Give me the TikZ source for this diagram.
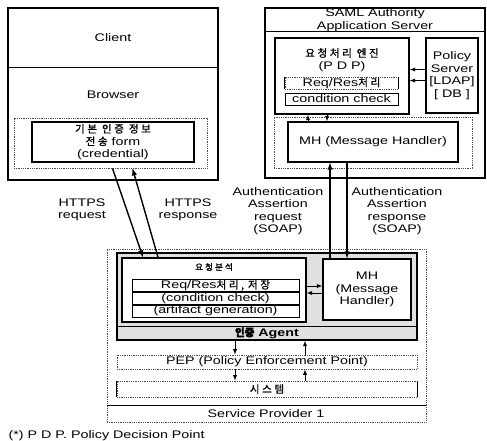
\documentclass[tikz,border=0pt]{standalone}
\usepackage{fontspec}
\setmainfont{Liberation Sans}[FakeStretch=1.3]
\newfontfamily\kr{Noto Sans CJK KR}[LetterSpace=25, FakeBold=1.2]
\newfontfamily\krb{Noto Sans CJK KR}[FakeBold=3]
\newcommand\ko[1]{{\kr\fontsize{10.5}{12.5}\selectfont #1}}
\usetikzlibrary{positioning,arrows}

\tikzset{
  box/.style={draw, line width=1.4pt, inner sep=0pt},
  litebox/.style={draw=black!70, densely dotted, line width=0.8pt, inner sep=0pt},
  rowbox/.style={draw, line width=0.7pt, inner sep=0pt, minimum width=167pt, minimum height=12pt},
  txt/.style={align=center, inner sep=0pt},
  tip/.style={-latex, line width=1.4pt},
  small tip/.style={-latex, line width=0.9pt},
}

\begin{document}
\begin{tikzpicture}[x=1pt, y=-1pt, font=\fontsize{11}{12.5}\selectfont]
\useasboundingbox (0,0) rectangle (487,441);
%
% client side
    \node[box, minimum width=210pt, minimum height=172pt] (clientbox) at (113,94) {};
    \draw[line width=1.4pt] ([yshift=-60pt]clientbox.north west) -- ([yshift=-60pt]clientbox.north east);
    \node (client) at (113,38) {Client};
    \node (browser) at (113,95) {Browser};
    \node[litebox, minimum width=193pt, minimum height=50pt] (credarea) at (110.5,143) {};
    \node[box, txt, minimum width=162pt, minimum height=40pt] (cred) at (113,142)
      {\ko{기본 인증 정보}\\\ko{전송} form\\(credential)};
%
% SAML authority
    \node[box, minimum width=220pt, minimum height=170pt] (saml) at (375,93) {};
    \draw[line width=1.4pt] ([yshift=-24pt]saml.north west) -- ([yshift=-24pt]saml.north east);
    \node[txt] (samltitle) at (375,20) {SAML Authority\\Application Server};
    \node[box, minimum width=134pt, minimum height=76pt] (pdp) at (342,76) {};
    \node[txt] (pdptitle) at (342,60) {\ko{요청처리 엔진}\\(P D P)};
    \node[litebox, minimum width=113pt, minimum height=12pt] (pdpreq) at (341.5,83) {Req/Res\ko{처리}};
    \draw[line width=0.9pt] (pdpreq.north west) -- (pdpreq.south west) (pdpreq.north east) -- (pdpreq.south east);
    \node[rowbox, minimum width=113pt] (pdpcond) at (341.5,99) {condition check};
    \node[box, txt, minimum width=52pt, minimum height=75pt] (policy) at (452,75.5)
      {Policy\\Server\\{[LDAP]}\\{[ DB ]}};
    \draw[small tip] ([yshift=6pt]policy.west) -- ([yshift=6pt]policy.west -| pdp.east);
    \draw[small tip] ([yshift=-5pt]policy.west) -- ([yshift=-5pt]policy.west -| pdp.east);
%
    \node[litebox, minimum width=198pt, minimum height=51pt] (mharea) at (373,142.5) {};
    \node[box, fill=white, minimum width=170pt, minimum height=40pt] (mhtop) at (373,142) {MH (Message Handler)};
    \draw[small tip] ([xshift=-34pt]pdp.south |- mhtop.north) -- ([xshift=-34pt]pdp.south);
    \draw[small tip] ([xshift=-15pt]pdp.south) -- ([xshift=-15pt]pdp.south |- mhtop.north);
%
% service provider
    \node[litebox, minimum width=319pt, minimum height=173pt] (sp) at (266.5,335.5) {};
    \draw[line width=1.4pt] ([yshift=-157pt]sp.north west) -- ([yshift=-157pt]sp.north east);
    \node (sptext) at (266,414) {Service Provider 1};
    \node[box, fill=black!12, minimum width=300pt, minimum height=87pt] (agent) at (267,296.5) {};
    \draw[line width=1.4pt] ([yshift=14pt]agent.south west) -- ([yshift=14pt]agent.south east);
    \node[font=\fontsize{11}{12.5}\selectfont\bfseries] (agenttext) at (267,333) {{\krb\fontsize{10.5}{12.5}\selectfont 인증} Agent};
    \node[box, fill=white, minimum width=184pt, minimum height=64pt] (analysis) at (214,290) {};
    \node (antitle) at (214,267) {{\kr\fontsize{8.5}{10}\selectfont 요청분석}};
    \node[rowbox] (row1) at (215.5,285.5) {Req/Res\ko{처리,} \ko{저장}};
    \node[rowbox, below=0pt of row1] (row2) {(condition check)};
    \node[rowbox, below=0pt of row2] (row3) {(artifact generation)};
    \node[box, fill=white, txt, minimum width=88pt, minimum height=61pt] (mhbot) at (367,289.5)
      {MH\\(Message\\Handler)};
    \draw[small tip] ([yshift=4pt]analysis.east) -- ([yshift=4pt]analysis.east -| mhbot.west);
    \draw[small tip] ([yshift=-3pt]analysis.east -| mhbot.west) -- ([yshift=-3pt]analysis.east);
%
    \node[litebox, minimum width=300pt, minimum height=14pt] (pep) at (267,362) {PEP (Policy Enforcement Point)};
    \node[litebox, minimum width=300pt, minimum height=16pt] (sys) at (267,389) {\ko{시스템}};
    \draw[line width=0.9pt] (sys.north west) -- (sys.south west) (sys.north east) -- (sys.south east);
    \draw[small tip] ([xshift=-32pt]agent.south) -- ([xshift=-32pt]agent.south |- pep.north);
    \draw[small tip] ([xshift=38pt]agent.south |- pep.north) -- ([xshift=38pt]agent.south);
    \draw[small tip] ([xshift=-32pt]pep.south) -- ([xshift=-32pt]pep.south |- sys.north);
    \draw[small tip] ([xshift=38pt]pep.south |- sys.north) -- ([xshift=38pt]pep.south);
%
% messages
    \draw[tip] ([xshift=2pt]credarea.south) -- ([xshift=-71pt]analysis.north);
    \draw[tip] ([xshift=-56pt]analysis.north) -- ([xshift=22pt]credarea.south);
    \node[txt] (httpsreq) at (82,210) {HTTPS\\request};
    \node[txt] (httpsres) at (188,210) {HTTPS\\response};
    \draw[tip] ([xshift=-37pt]mhbot.north) -- ([xshift=-37pt]mhbot.north |- mhtop.south);
    \draw[tip] ([xshift=-20pt]mhbot.north |- mhtop.south) -- ([xshift=-20pt]mhbot.north);
    \node[txt] (asreq) at (278,211) {Authentication\\Assertion\\request\\(SOAP)};
    \node[txt] (asres) at (397,211) {Authentication\\Assertion\\response\\(SOAP)};
%
    \node[anchor=west] (note) at (5,436) {(*) P D P. Policy Decision Point};
\end{tikzpicture}
\end{document}
